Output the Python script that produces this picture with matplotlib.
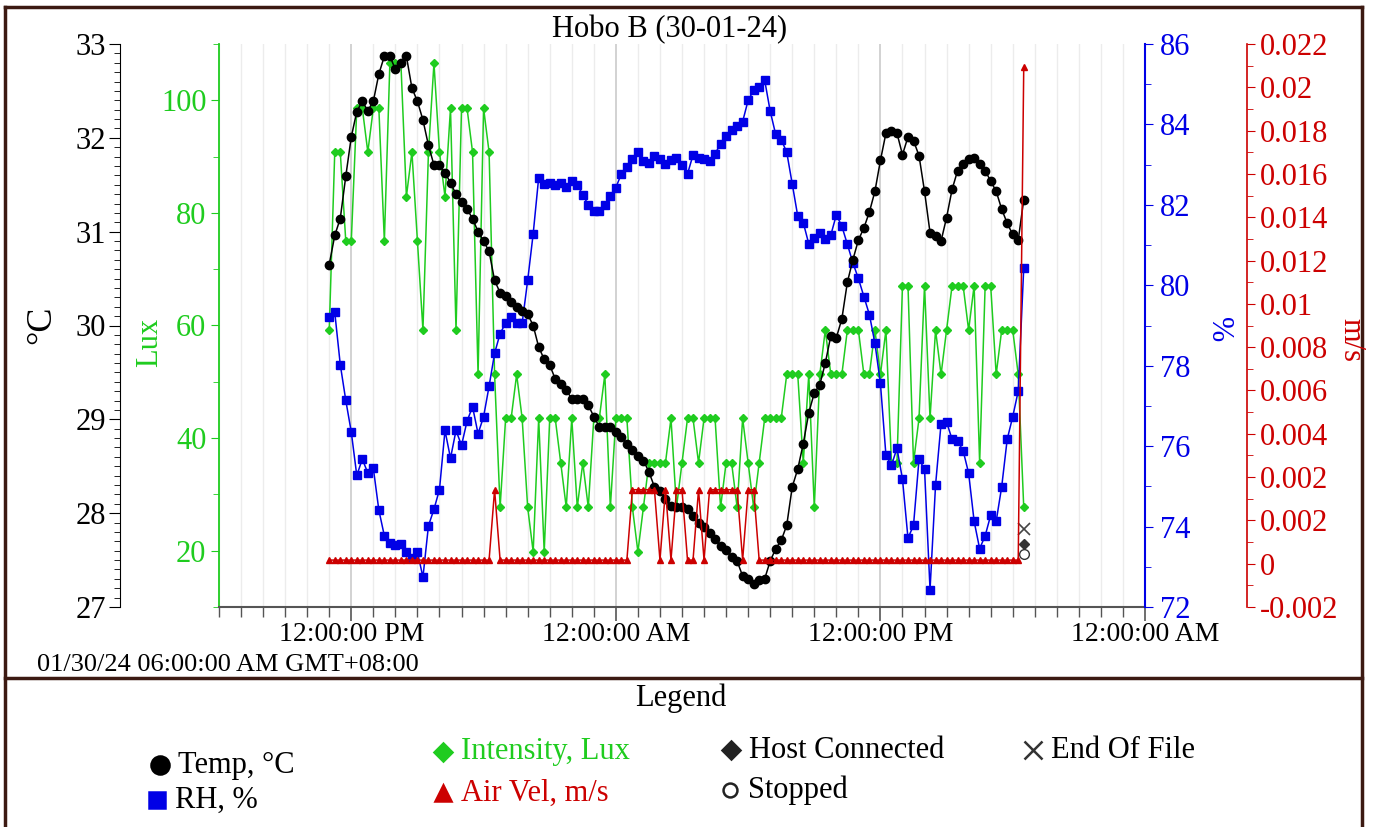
import numpy as np
import pandas as pd
import matplotlib
matplotlib.use('Agg')
import matplotlib.pyplot as plt
import matplotlib.dates as mdates
from matplotlib.ticker import MultipleLocator, FixedLocator
from matplotlib.lines import Line2D

plt.rcParams['font.family'] = ['Liberation Serif', 'DejaVu Serif']

TITLE = 'Hobo B (30-01-24)'
START = '2024-01-30 11:00'
STEP = '15min'
X_FROM = '2024-01-30 06:00'
X_TO = '2024-02-01 00:00'

# logger readings, one every 15 minutes
temp_c = [30.65, 30.96, 31.14, 31.59, 32.01, 32.28, 32.39, 32.29, 32.39, 32.68,
          32.87, 32.87, 32.73, 32.80, 32.87, 32.53, 32.39, 32.19, 31.92, 31.71,
          31.71, 31.63, 31.52, 31.40, 31.32, 31.24, 31.14, 31.00, 30.90, 30.79,
          30.48, 30.35, 30.31, 30.25, 30.20, 30.15, 30.12, 30.00, 29.77, 29.64,
          29.58, 29.43, 29.38, 29.31, 29.22, 29.22, 29.22, 29.15, 29.03, 28.92,
          28.92, 28.92, 28.86, 28.81, 28.74, 28.67, 28.61, 28.56, 28.44, 28.28,
          28.24, 28.15, 28.08, 28.07, 28.07, 28.04, 27.97, 27.90, 27.85, 27.79,
          27.72, 27.65, 27.61, 27.53, 27.49, 27.33, 27.30, 27.24, 27.29, 27.30,
          27.49, 27.62, 27.71, 27.87, 28.28, 28.47, 28.74, 29.07, 29.28, 29.37,
          29.60, 29.89, 29.87, 30.07, 30.46, 30.70, 30.91, 31.04, 31.21, 31.43,
          31.76, 32.05, 32.07, 32.05, 31.82, 32.01, 31.97, 31.81, 31.43, 30.99,
          30.95, 30.90, 31.15, 31.45, 31.65, 31.72, 31.77, 31.78, 31.72, 31.65,
          31.54, 31.43, 31.24, 31.09, 30.97, 30.91, 31.34]

rh_pct = [79.22, 79.33, 78.03, 77.14, 76.35, 75.27, 75.68, 75.33, 75.45, 74.41,
          73.77, 73.60, 73.53, 73.56, 73.37, 73.23, 73.37, 72.74, 74.02, 74.43,
          74.92, 76.39, 75.70, 76.39, 76.02, 76.62, 76.98, 76.31, 76.73, 77.49,
          78.31, 78.80, 79.06, 79.20, 79.06, 79.06, 80.12, 81.28, 82.68, 82.52,
          82.55, 82.50, 82.55, 82.45, 82.60, 82.50, 82.25, 82.00, 81.85, 81.85,
          82.00, 82.22, 82.43, 82.77, 82.93, 83.14, 83.31, 83.10, 83.03, 83.22,
          83.14, 83.02, 83.12, 83.16, 82.99, 82.77, 83.24, 83.16, 83.14, 83.10,
          83.27, 83.52, 83.72, 83.85, 83.96, 84.07, 84.60, 84.85, 84.92, 85.10,
          84.33, 83.75, 83.62, 83.31, 82.52, 81.72, 81.56, 81.03, 81.18, 81.31,
          81.16, 81.25, 81.75, 81.47, 81.02, 80.56, 80.17, 79.72, 79.27, 78.56,
          77.56, 75.77, 75.52, 75.95, 75.18, 73.71, 74.03, 75.67, 75.43, 72.43,
          75.03, 76.56, 76.60, 76.17, 76.12, 75.89, 75.33, 74.13, 73.45, 73.77,
          74.28, 74.13, 74.99, 76.17, 76.73, 77.37, 80.43]

lux = [59.2, 90.8, 90.8, 75.0, 75.0, 98.6, 98.6, 90.8, 98.6, 98.6,
       75.0, 106.6, 106.6, 106.6, 82.9, 90.8, 75.0, 59.2, 90.8, 106.6,
       90.8, 82.9, 98.6, 59.2, 98.6, 98.6, 90.8, 51.3, 98.6, 90.8,
       51.3, 27.7, 43.5, 43.5, 51.3, 43.5, 27.7, 19.8, 43.5, 19.8,
       43.5, 43.5, 35.6, 27.7, 43.5, 27.7, 35.6, 27.7, 43.5, 43.5,
       51.3, 27.7, 43.5, 43.5, 43.5, 27.7, 19.8, 27.7, 35.6, 35.6,
       35.6, 35.6, 43.5, 27.7, 35.6, 43.5, 43.5, 35.6, 43.5, 43.5,
       43.5, 27.7, 35.6, 35.6, 27.7, 43.5, 35.6, 27.7, 35.6, 43.5,
       43.5, 43.5, 43.5, 51.3, 51.3, 51.3, 35.6, 51.3, 27.7, 51.3,
       59.2, 51.3, 51.3, 51.3, 59.2, 59.2, 59.2, 51.3, 51.3, 59.2,
       51.3, 59.2, 35.6, 35.6, 67.1, 67.1, 35.6, 43.5, 67.1, 43.5,
       59.2, 51.3, 59.2, 67.1, 67.1, 67.1, 59.2, 67.1, 35.6, 67.1,
       67.1, 51.3, 59.2, 59.2, 59.2, 51.3, 27.7]

air_vel = [0, 0, 0, 0, 0, 0, 0, 0, 0, 0,
           0, 0, 0, 0, 0, 0, 0, 0, 0, 0,
           0, 0, 0, 0, 0, 0, 0, 0, 0, 0,
           0.003, 0, 0, 0, 0, 0, 0, 0, 0, 0,
           0, 0, 0, 0, 0, 0, 0, 0, 0, 0,
           0, 0, 0, 0, 0, 0.003, 0.003, 0.003, 0.003, 0.003,
           0, 0.003, 0, 0.003, 0.003, 0, 0, 0.003, 0, 0.003,
           0.003, 0.003, 0.003, 0.003, 0.003, 0, 0.003, 0.003, 0, 0,
           0, 0, 0, 0, 0, 0, 0, 0, 0, 0,
           0, 0, 0, 0, 0, 0, 0, 0, 0, 0,
           0, 0, 0, 0, 0, 0, 0, 0, 0, 0,
           0, 0, 0, 0, 0, 0, 0, 0, 0, 0,
           0, 0, 0, 0, 0, 0, 0.021]

# logger events at the last sample, placed on the temperature scale
event_temp = {'End Of File': 27.83, 'Host Connected': 27.67, 'Stopped': 27.57}

vel_labels = ['-0.002', '0', '0.002', '0.002', '0.004', '0.006', '0.008',
              '0.01', '0.012', '0.014', '0.016', '0.018', '0.02', '0.022']

GREEN = '#1fcc1f'
BLUE = '#0000e6'
RED = '#cc0000'
FRAME = '#3c1a12'

W, H = 1373, 827
def fx(px):
	return px / W
def fy(py):
	return 1 - py / H

t = pd.date_range(START, periods=len(temp_c), freq=STEP)

fig = plt.figure(figsize=(W / 100, H / 100), dpi=100)
ax_l = fig.add_axes([fx(219), fy(607), fx(1145) - fx(219), fy(44) - fy(607)])
ax_r = ax_l.twinx()
ax_t = ax_l.twinx()
ax_v = ax_l.twinx()

# lines
ax_l.plot(t, lux, color=GREEN, marker='D', ms=4.2, lw=1.1)
ax_r.plot(t, rh_pct, color=BLUE, marker='s', ms=5.5, lw=1.1)
ax_t.plot(t, temp_c, color='black', marker='o', ms=6, lw=1.1)
ax_v.plot(t, air_vel, color=RED, marker='^', ms=5, lw=1.1)
ax_t.plot(t[-1], event_temp['End Of File'], marker='x', color='#444444', ms=9, mew=1.2, ls='none')
ax_t.plot(t[-1], event_temp['Host Connected'], marker='D', color='#333333', ms=5, ls='none')
ax_t.plot(t[-1], event_temp['Stopped'], marker='o', mfc='white', mec='#333333', ms=7, ls='none')

# x axis
ax_l.set_xlim(pd.Timestamp(X_FROM), pd.Timestamp(X_TO))
ax_l.xaxis.set_major_locator(mdates.HourLocator(byhour=[0, 12]))
ax_l.xaxis.set_minor_locator(mdates.HourLocator())
ax_l.xaxis.set_major_formatter(mdates.DateFormatter('%I:%M:%S %p'))
ax_l.tick_params(axis='x', which='major', length=10, width=1.2, color='#555555', labelsize=20, pad=1)
ax_l.tick_params(axis='x', which='minor', length=7, width=1, color='#555555')
ax_l.grid(axis='x', which='minor', color='#ececec', lw=1)
ax_l.grid(axis='x', which='major', color='#cfcfcf', lw=1.3)
ax_l.set_axisbelow(True)

for a in (ax_l, ax_r, ax_t, ax_v):
	a.spines['top'].set_visible(False)
for a in (ax_r, ax_t, ax_v):
	a.spines['bottom'].set_visible(False)
ax_l.spines['right'].set_visible(False)
ax_l.spines['bottom'].set_color('#555555')
ax_l.spines['bottom'].set_linewidth(1.5)
ax_r.spines['left'].set_visible(False)
ax_t.spines['right'].set_visible(False)
ax_v.spines['left'].set_visible(False)

# lux, left inner axis
ax_l.set_ylim(10, 110)
ax_l.yaxis.set_major_locator(FixedLocator([20, 40, 60, 80, 100]))
ax_l.yaxis.set_minor_locator(MultipleLocator(10))
ax_l.spines['left'].set_color(GREEN)
ax_l.spines['left'].set_linewidth(1.3)
ax_l.tick_params(axis='y', which='major', colors=GREEN, labelsize=22, length=6, pad=3)
ax_l.tick_params(axis='y', which='minor', colors=GREEN, length=4)

# temperature, left outer axis
ax_t.yaxis.tick_left()
ax_t.spines['left'].set_position(('axes', -99 / 926))
ax_t.set_ylim(27, 33)
ax_t.yaxis.set_major_locator(MultipleLocator(1))
ax_t.yaxis.set_minor_locator(MultipleLocator(0.1))
ax_t.tick_params(axis='y', which='major', colors='black', labelsize=22, length=8, pad=2)
ax_t.tick_params(axis='y', which='minor', colors='black', length=4)

# RH, right inner axis
ax_r.set_ylim(72, 86)
ax_r.yaxis.set_major_locator(MultipleLocator(2))
ax_r.yaxis.set_minor_locator(MultipleLocator(1))
ax_r.spines['right'].set_color(BLUE)
ax_r.spines['right'].set_linewidth(1.5)
ax_r.tick_params(axis='y', which='major', colors=BLUE, labelsize=22, length=6, pad=5)
ax_r.tick_params(axis='y', which='minor', colors=BLUE, length=4)

# air velocity, right outer axis
vel_ticks = np.linspace(-0.002, 0.022, len(vel_labels))
ax_v.spines['right'].set_position(('axes', 1 + 102 / 926))
ax_v.set_ylim(-0.002, 0.022)
ax_v.set_yticks(vel_ticks, labels=vel_labels)
ax_v.yaxis.set_minor_locator(FixedLocator((vel_ticks[:-1] + vel_ticks[1:]) / 2))
ax_v.spines['right'].set_color(RED)
ax_v.spines['right'].set_linewidth(1.2)
ax_v.tick_params(axis='y', which='major', colors=RED, labelsize=22, length=6, pad=3)
ax_v.tick_params(axis='y', which='minor', colors=RED, length=4)

# axis names and texts
fig.text(fx(670), fy(30), TITLE, ha='center', va='center', fontsize=22)
fig.text(fx(42), fy(325), '°C', rotation=90, ha='center', va='center', fontsize=26)
fig.text(fx(150), fy(342), 'Lux', rotation=90, ha='center', va='center', fontsize=22, color=GREEN)
fig.text(fx(1219), fy(330), '%', rotation=-90, ha='center', va='center', fontsize=22, color=BLUE)
fig.text(fx(1351), fy(340), 'm/s', rotation=-90, ha='center', va='center', fontsize=22, color=RED)
fig.text(fx(37), fy(665), '01/30/24 06:00:00 AM GMT+08:00', ha='left', va='center', fontsize=19)

# legend box
fig.text(fx(681), fy(698), 'Legend', ha='center', va='center', fontsize=22)
legend_items = [
	(160, 765, 'o', 'black', 'black', 13, 'Temp, °C', 'black'),
	(157, 800, 's', BLUE, BLUE, 11, 'RH, %', 'black'),
	(443, 752, 'D', GREEN, GREEN, 9, 'Intensity, Lux', GREEN),
	(443, 793, '^', RED, RED, 11, 'Air Vel, m/s', RED),
	(731, 750, 'D', '#222222', '#222222', 9, 'Host Connected', 'black'),
	(730, 790, 'o', 'white', '#222222', 10, 'Stopped', 'black'),
	(1033, 750, 'x', '#333333', '#333333', 13, 'End Of File', 'black'),
]
for px, py, mk, fc, ec, ms, label, tc in legend_items:
	fig.add_artist(Line2D([fx(px)], [fy(py)], transform=fig.transFigure, marker=mk,
		mfc=fc, mec=ec, ms=ms, mew=1.8, ls='none'))
	fig.text(fx(px + 18), fy(py), label, ha='left', va='center', fontsize=22, color=tc)

# outer frame
for xs, ys in [((5, 5), (7, 827)), ((1362, 1362), (7, 827)), ((5, 1362), (7, 7)), ((5, 1362), (678, 678))]:
	fig.add_artist(Line2D([fx(v) for v in xs], [fy(v) for v in ys], transform=fig.transFigure,
		color=FRAME, lw=2.5))

fig.savefig('out.png', dpi=100)
